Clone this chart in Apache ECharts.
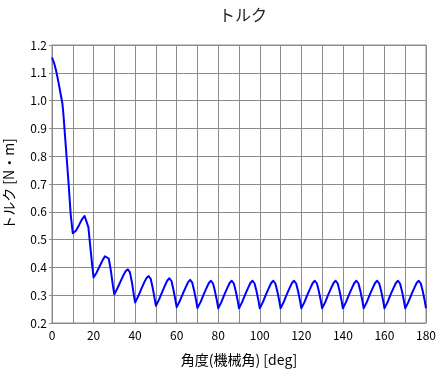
<!DOCTYPE html>
<html>
<head>
<meta charset="utf-8">
<script src="https://cdn.jsdelivr.net/npm/echarts@6/dist/echarts.min.js"></script>
<style>
html, body { margin: 0; padding: 0; background: #fff; }
#chart { width: 443px; height: 378px; }
</style>
</head>
<body>
<div id="chart"></div>
<script>
// 角度 [deg] と トルク [N・m] (one row per 10 deg period)
const angle = [
    0, 1, 2, 3, 4, 5, 5.5, 6, 7, 8, 9,
    10, 11.5, 13, 14.5, 15.7, 16.5, 17.5, 18.5, 19.3,
    20, 21.5, 23, 24.5, 25.5, 26.3, 27.3, 28.3, 29.3,
    30, 31.5, 33, 34.5, 35.5, 36.5, 37.5, 38.5, 39.3,
    40, 41.5, 43, 44.5, 45.5, 46.5, 47.5, 48.5, 49.3,
    50, 51.5, 53, 54.5, 55.5, 56.5, 57.5, 58.5, 59.3,
    60, 61.5, 63, 64.5, 65.5, 66.5, 67.5, 68.5, 69.3,
    70, 71.5, 73, 74.5, 75.5, 76.5, 77.5, 78.5, 79.3,
    80, 81.5, 83, 84.5, 85.5, 86.5, 87.5, 88.5, 89.3,
    90, 91.5, 93, 94.5, 95.5, 96.5, 97.5, 98.5, 99.3,
    100, 101.5, 103, 104.5, 105.5, 106.5, 107.5, 108.5, 109.3,
    110, 111.5, 113, 114.5, 115.5, 116.5, 117.5, 118.5, 119.3,
    120, 121.5, 123, 124.5, 125.5, 126.5, 127.5, 128.5, 129.3,
    130, 131.5, 133, 134.5, 135.5, 136.5, 137.5, 138.5, 139.3,
    140, 141.5, 143, 144.5, 145.5, 146.5, 147.5, 148.5, 149.3,
    150, 151.5, 153, 154.5, 155.5, 156.5, 157.5, 158.5, 159.3,
    160, 161.5, 163, 164.5, 165.5, 166.5, 167.5, 168.5, 169.3,
    170, 171.5, 173, 174.5, 175.5, 176.5, 177.5, 178.5, 179.3,
    180
]
const torque = [
    1.155, 1.135, 1.107, 1.07, 1.03, 0.99, 0.95, 0.90, 0.80, 0.70, 0.59,
    0.523, 0.532, 0.552, 0.574, 0.585, 0.578, 0.545, 0.47, 0.41,
    0.364, 0.382, 0.405, 0.428, 0.440, 0.445, 0.432, 0.39, 0.335,
    0.303, 0.325, 0.350, 0.374, 0.387, 0.393, 0.382, 0.345, 0.305,
    0.274, 0.296, 0.323, 0.348, 0.362, 0.369, 0.359, 0.325, 0.292,
    0.262, 0.284, 0.311, 0.337, 0.353, 0.361, 0.351, 0.318, 0.286,
    0.257, 0.279, 0.306, 0.331, 0.347, 0.355, 0.345, 0.313, 0.283,
    0.254, 0.275, 0.303, 0.328, 0.344, 0.352, 0.342, 0.312, 0.283,
    0.253, 0.275, 0.303, 0.328, 0.344, 0.352, 0.342, 0.312, 0.283,
    0.253, 0.275, 0.303, 0.328, 0.344, 0.352, 0.342, 0.312, 0.283,
    0.253, 0.275, 0.303, 0.328, 0.344, 0.352, 0.342, 0.312, 0.283,
    0.253, 0.275, 0.303, 0.328, 0.344, 0.352, 0.342, 0.312, 0.283,
    0.253, 0.275, 0.303, 0.328, 0.344, 0.352, 0.342, 0.312, 0.283,
    0.253, 0.275, 0.303, 0.328, 0.344, 0.352, 0.342, 0.312, 0.283,
    0.253, 0.275, 0.303, 0.328, 0.344, 0.352, 0.342, 0.312, 0.283,
    0.253, 0.275, 0.303, 0.328, 0.344, 0.352, 0.342, 0.312, 0.283,
    0.253, 0.275, 0.303, 0.328, 0.344, 0.352, 0.342, 0.312, 0.283,
    0.253, 0.275, 0.303, 0.328, 0.344, 0.352, 0.342, 0.312, 0.283,
    0.253
]
const titleText = 'トルク'
const xName = '角度(機械角) [deg]'
const yName = 'トルク [N・m]'

const font = '"Noto Sans CJK JP", sans-serif'
const chart = echarts.init(document.getElementById('chart'))
const gridColor = '#8c8c8c'

const option = {
    animation: false,
    title: {
        text: titleText,
        left: 238,
        top: 2,
        textAlign: 'center',
        textStyle: { fontFamily: font, fontSize: 16, fontWeight: 'normal', color: '#222' },
    },
    grid: {
        left: 52, right: 17, top: 45, bottom: 55,
        outerBoundsMode: 'none',
        containLabel: false,
        show: true, borderColor: gridColor, borderWidth: 1,
    },
    xAxis: {
        type: 'value',
        min: 0,
        max: 180,
        interval: 10,
        name: xName,
        nameLocation: 'middle',
        nameGap: 30,
        nameTextStyle: { fontFamily: font, fontSize: 14, color: '#000' },
        axisLine: { show: true, lineStyle: { color: gridColor } },
        axisTick: { show: false },
        axisLabel: {
            fontFamily: font,
            fontSize: 12,
            color: '#000',
            margin: 6,
            formatter: v => (v % 20 === 0 ? String(v) : ''),
        },
        splitLine: { show: true, lineStyle: { color: gridColor, width: 1 } },
    },
    yAxis: {
        type: 'value',
        min: 0.2,
        max: 1.2,
        interval: 0.1,
        name: yName,
        nameLocation: 'middle',
        nameGap: 36,
        nameTextStyle: { fontFamily: font, fontSize: 14, color: '#000' },
        axisLine: { show: true, lineStyle: { color: gridColor } },
        axisTick: { show: true, length: 3, lineStyle: { color: gridColor } },
        axisLabel: {
            fontFamily: font,
            fontSize: 12,
            color: '#000',
            margin: 5,
            formatter: v => v.toFixed(1),
        },
        splitLine: { show: true, lineStyle: { color: gridColor, width: 1 } },
    },
    series: [
        {
            type: 'line',
            data: angle.map((a, i) => [a, torque[i]]),
            symbol: 'none',
            smooth: false,
            lineStyle: { color: '#0000ff', width: 2, join: 'round' },
        },
    ],
}
chart.setOption(option)
</script>
</body>
</html>
